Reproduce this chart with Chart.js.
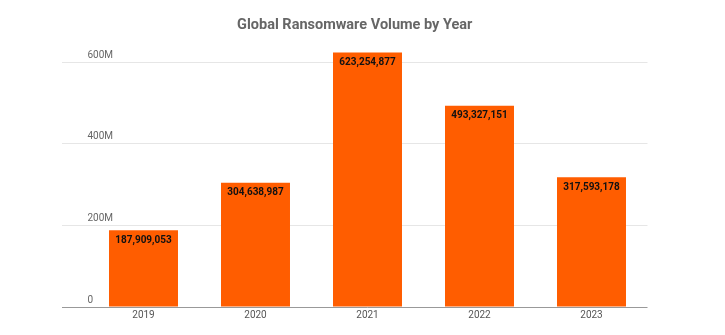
<!DOCTYPE html>
<html>
<head>
<meta charset="utf-8">
<script src="https://cdn.jsdelivr.net/npm/chart.js@4/dist/chart.umd.min.js"></script>
<style>
  html, body { margin: 0; padding: 0; background: #fff; }
  #wrap { width: 725px; height: 335px; }
</style>
</head>
<body>
<div id="wrap"><canvas id="chart"></canvas></div>
<script>
"use strict";

const titre = "Global Ransomware Volume by Year";
const annees = ["2019", "2020", "2021", "2022", "2023"];
const volumes = [187909053, 304638987, 623254877, 493327151, 317593178];
const graduations = [0, 200000000, 400000000, 600000000];

const couleurBarre = "#ff5d00";

// étiquettes de valeur en haut de chaque barre
const etiquettesValeurs = {
  id: "etiquettesValeurs",
  afterDatasetsDraw(chart) {
    const ctx = chart.ctx;
    const meta = chart.getDatasetMeta(0);
    ctx.save();
    ctx.font = "bold 10px Roboto";
    ctx.fillStyle = "#111";
    ctx.textAlign = "center";
    ctx.textBaseline = "middle";
    meta.data.forEach((barre, i) => {
      ctx.fillText(volumes[i].toLocaleString("en-US"), barre.x, barre.y + 10);
    });
    ctx.restore();
  }
};

const ctx = document.getElementById("chart");
let myChart = new Chart(ctx, {
  type: "bar",
  data: {
    labels: annees,
    datasets: [{
      data: volumes,
      backgroundColor: couleurBarre,
      barPercentage: 0.616,
      categoryPercentage: 1
    }]
  },
  options: {
    responsive: true,
    maintainAspectRatio: false,
    animation: false,
    layout: { padding: { left: 62, right: 77.5, top: 0, bottom: 12 } },
    plugins: {
      legend: { display: false },
      tooltip: { enabled: false },
      title: {
        display: true,
        text: titre,
        color: "#666",
        font: { family: "Roboto", size: 14.5, weight: "bold" },
        padding: { top: 16.6, bottom: 7.7 }
      }
    },
    scales: {
      x: {
        grid: { display: false, drawTicks: false },
        border: { display: false },
        ticks: {
          color: "#555",
          font: { family: "Roboto", size: 10 },
          padding: 2
        }
      },
      y: {
        min: 0,
        max: 650000000,
        afterBuildTicks: scale => {
          scale.ticks = graduations.map(v => ({ value: v }));
        },
        border: { display: false },
        grid: {
          drawTicks: true,
          tickLength: 25.5,
          color: c => (c.tick && c.tick.value === 0) ? "#999" : "#e6e6e6",
          lineWidth: 1
        },
        ticks: {
          mirror: true,
          padding: 0,
          labelOffset: -7,
          color: "#666",
          font: { family: "Roboto", size: 10 },
          callback: v => v === 0 ? "0" : (v / 1000000) + "M"
        }
      }
    }
  },
  plugins: [etiquettesValeurs]
});
</script>
</body>
</html>
